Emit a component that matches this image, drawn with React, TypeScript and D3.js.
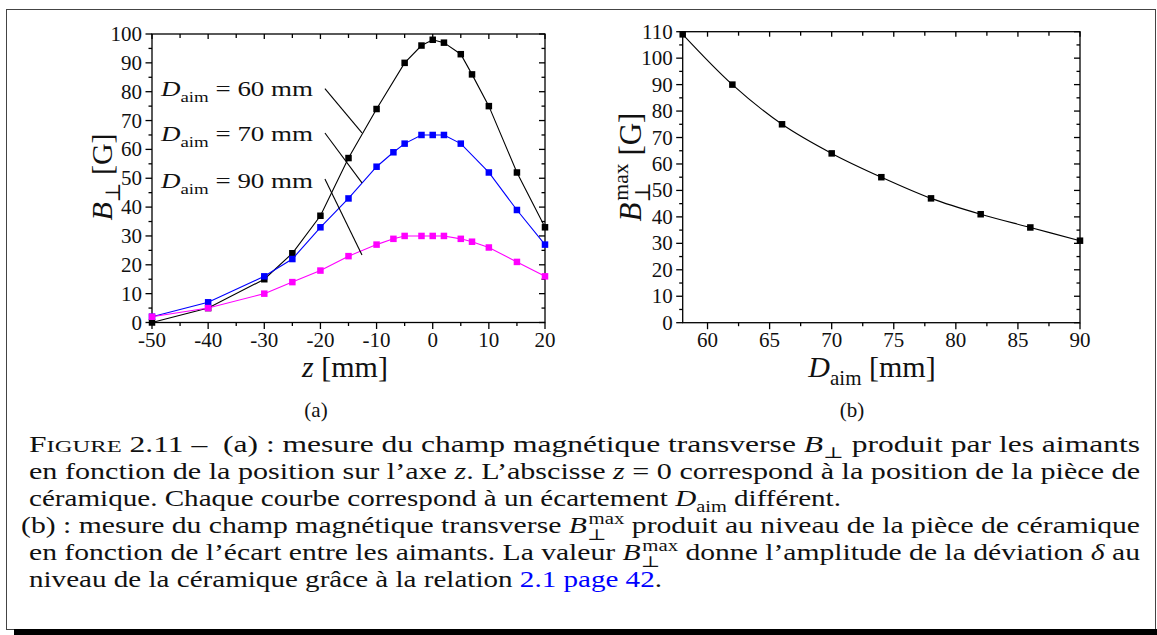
import React from "react";
import * as d3 from "d3";

// ---------- data (a) ----------
const z60 = [-50, -40, -30, -25, -20, -15, -10, -5, -2, 0, 2, 5, 7, 10, 15, 20];
const b60 = [0, 5, 15, 24, 37, 57, 74, 90, 96, 98, 97, 93, 86, 75, 52, 33];
const z70 = [-50, -40, -30, -25, -20, -15, -10, -7, -5, -2, 0, 2, 5, 10, 15, 20];
const b70 = [2, 7, 16, 22, 33, 43, 54, 59, 62, 65, 65, 65, 62, 52, 39, 27];
const z90 = [-50, -40, -30, -25, -20, -15, -10, -7, -5, -2, 0, 2, 5, 7, 10, 15, 20];
const b90 = [2, 5, 10, 14, 18, 23, 27, 29, 30, 30, 30, 30, 29, 28, 26, 21, 16];
const seriesNames = ["60", "70", "90"];
const seriesColors = ["#000000", "#0000ff", "#ff00ff"];
const xTicksA = [-50, -40, -30, -20, -10, 0, 10, 20];
const yTicksA = [0, 10, 20, 30, 40, 50, 60, 70, 80, 90, 100];
// annotation: label anchor (z, B) and leader line endpoints (z, B)
const labelPosA = [[-48.4, 78.5], [-48.4, 62.9], [-48.4, 46.6]];
const leaderA = [
  [[-19.2, 81.1], [-12.6, 65.7]],
  [[-19.2, 65.7], [-12.6, 48.4]],
  [[-19.2, 49.7], [-12.6, 23.4]],
];

// ---------- data (b) ----------
const dAim = [58, 62, 66, 70, 74, 78, 82, 86, 90];
const bMax = [109, 90, 75, 64, 55, 47, 41, 36, 31];
const xTicksB = [60, 65, 70, 75, 80, 85, 90];
const yTicksB = [0, 10, 20, 30, 40, 50, 60, 70, 80, 90, 100, 110];

const FONT = "'Liberation Serif', 'DejaVu Serif', serif";

type Seg = { t: string; k?: string };

function renderSegs(segs: Seg[], fs: number) {
  let off = 0;
  const out: any[] = [];
  segs.forEach((s, i) => {
    const k = s.k || "n";
    if (k === "sub") {
      const target = fs * 0.28;
      out.push(
        <tspan key={i} dy={target - off} fontSize={fs * 0.7} fontStyle="normal">
          {s.t}
        </tspan>
      );
      off = target;
    } else if (k === "perpmax") {
      const sub = fs * 0.3;
      const sup = -fs * 0.42;
      out.push(
        <tspan key={i + "a"} dy={sub - off} fontSize={fs * 0.7}>
          ⊥
        </tspan>
      );
      out.push(
        <tspan key={i + "b"} dx={-fs * 0.6} dy={sup - sub} fontSize={fs * 0.7}>
          max
        </tspan>
      );
      off = sup;
    } else {
      const props: any = { key: i };
      if (off !== 0) {
        props.dy = -off;
        off = 0;
      }
      if (k === "i") props.fontStyle = "italic";
      if (k === "link") props.fill = "#0000ff";
      if (k === "sc") props.fontSize = fs * 0.78;
      out.push(<tspan {...props}>{s.t}</tspan>);
    }
  });
  return out;
}

const captionLines: { segs: Seg[]; x: number; w: number }[] = [
  {
    x: 29,
    w: 1111,
    segs: [
      { t: "F" },
      { t: "IGURE", k: "sc" },
      { t: " 2.11 –  (a) : mesure du champ magnétique transverse " },
      { t: "B", k: "i" },
      { t: "⊥", k: "sub" },
      { t: " produit par les aimants" },
    ],
  },
  {
    x: 29,
    w: 1111,
    segs: [
      { t: "en fonction de la position sur l’axe " },
      { t: "z", k: "i" },
      { t: ". L’abscisse " },
      { t: "z", k: "i" },
      { t: " = 0 correspond à la position de la pièce de" },
    ],
  },
  {
    x: 29,
    w: 812,
    segs: [
      { t: "céramique. Chaque courbe correspond à un écartement " },
      { t: "D", k: "i" },
      { t: "aim", k: "sub" },
      { t: " différent." },
    ],
  },
  {
    x: 21,
    w: 1119,
    segs: [
      { t: "(b) : mesure du champ magnétique transverse " },
      { t: "B", k: "i" },
      { t: "", k: "perpmax" },
      { t: " produit au niveau de la pièce de céramique" },
    ],
  },
  {
    x: 29,
    w: 1111,
    segs: [
      { t: "en fonction de l’écart entre les aimants. La valeur " },
      { t: "B", k: "i" },
      { t: "", k: "perpmax" },
      { t: " donne l’amplitude de la déviation " },
      { t: "δ", k: "i" },
      { t: " au" },
    ],
  },
  {
    x: 29,
    w: 633,
    segs: [
      { t: "niveau de la céramique grâce à la relation " },
      { t: "2.1 page 42", k: "link" },
      { t: "." },
    ],
  },
];
const captionBaselines = [452, 479, 506, 533, 560, 587];

export default function App() {
  // scales (a)
  const xA = d3.scaleLinear().domain([-50, 20]).range([152, 545]);
  const yA = d3.scaleLinear().domain([0, 100]).range([322.5, 34]);
  // scales (b)
  const xB = d3.scaleLinear().domain([58, 90]).range([682.7, 1080]);
  const yB = d3.scaleLinear().domain([0, 110]).range([322.7, 31.7]);

  const lineA = d3
    .line<[number, number]>()
    .x((d) => xA(d[0]))
    .y((d) => yA(d[1]));
  const lineB = d3
    .line<[number, number]>()
    .x((d) => xB(d[0]))
    .y((d) => yB(d[1]))
    .curve(d3.curveCatmullRom.alpha(0.5));

  const seriesA = [
    z60.map((z, i) => [z, b60[i]] as [number, number]),
    z70.map((z, i) => [z, b70[i]] as [number, number]),
    z90.map((z, i) => [z, b90[i]] as [number, number]),
  ];
  const seriesB = dAim.map((d, i) => [d, bMax[i]] as [number, number]);

  const MS = 6.5;
  const tickFs = 21;

  const minorA_x = d3.range(-45, 20, 10);
  const minorA_y = d3.range(5, 100, 10);
  const minorB_x = d3.range(62.5, 90, 5);
  const minorB_y = d3.range(5, 110, 10);

  const axisFrame = (
    x: d3.ScaleLinear<number, number>,
    y: d3.ScaleLinear<number, number>,
    xMaj: number[],
    xMin: number[],
    yMaj: number[],
    yMin: number[],
    fmt: (v: number) => string
  ) => {
    const [x0, x1] = x.range();
    const [y0, y1] = y.range();
    return (
      <g stroke="#000" strokeWidth={1.3}>
        <rect x={x0} y={y1} width={x1 - x0} height={y0 - y1} fill="none" />
        {xMaj.map((v) => (
          <g key={"xM" + v}>
            <line x1={x(v)} x2={x(v)} y1={y0} y2={y0 + 6.5} />
            <line x1={x(v)} x2={x(v)} y1={y1} y2={y1 + 5} />
          </g>
        ))}
        {xMin.map((v) => (
          <g key={"xm" + v}>
            <line x1={x(v)} x2={x(v)} y1={y0} y2={y0 + 3.5} />
            <line x1={x(v)} x2={x(v)} y1={y1} y2={y1 + 4} />
          </g>
        ))}
        {yMaj.map((v) => (
          <g key={"yM" + v}>
            <line x1={x0 - 6.5} x2={x0} y1={y(v)} y2={y(v)} />
            <line x1={x1 - 6} x2={x1} y1={y(v)} y2={y(v)} />
          </g>
        ))}
        {yMin.map((v) => (
          <g key={"ym" + v}>
            <line x1={x0 - 3.5} x2={x0} y1={y(v)} y2={y(v)} />
            <line x1={x1 - 3.5} x2={x1} y1={y(v)} y2={y(v)} />
          </g>
        ))}
        <g stroke="none" fill="#111" fontSize={tickFs}>
          {xMaj.map((v) => (
            <text key={"xl" + v} x={x(v)} y={y0 + 24.5} textAnchor="middle">
              {fmt(v)}
            </text>
          ))}
          {yMaj.map((v) => (
            <text key={"yl" + v} x={x0 - 10} y={y(v) + 7} textAnchor="end">
              {fmt(v)}
            </text>
          ))}
        </g>
      </g>
    );
  };

  return (
    <svg
      width={1157}
      height={635}
      style={{ position: "absolute", left: 0, top: 0, background: "#fff" }}
      fontFamily={FONT}
    >
      <rect x={0} y={0} width={1157} height={635} fill="#fff" />
      {/* frame */}
      <rect x={6.5} y={9.5} width={1149} height={620} fill="none" stroke="#444" strokeWidth={1} />
      <rect x={14} y={629} width={1143} height={6} fill="#000" />

      {/* ---------- chart (a) ---------- */}
      {axisFrame(xA, yA, xTicksA, minorA_x, yTicksA, minorA_y, (v) => (v < 0 ? "-" + Math.abs(v) : String(v)))}
      {seriesA.map((s, si) => (
        <g key={"sa" + si}>
          <path d={lineA(s) || ""} fill="none" stroke={seriesColors[si]} strokeWidth={1.1} />
          {s.map((d, i) => (
            <rect
              key={i}
              x={xA(d[0]) - MS / 2}
              y={yA(d[1]) - MS / 2}
              width={MS}
              height={MS}
              fill={seriesColors[si]}
            />
          ))}
        </g>
      ))}
      {leaderA.map((l, i) => (
        <line
          key={"ld" + i}
          x1={xA(l[0][0])}
          y1={yA(l[0][1])}
          x2={xA(l[1][0])}
          y2={yA(l[1][1])}
          stroke="#000"
          strokeWidth={1.1}
        />
      ))}
      {seriesNames.map((n, i) => (
        <text
          key={"lab" + i}
          x={xA(labelPosA[i][0])}
          y={yA(labelPosA[i][1])}
          fontSize={22}
          fill="#111"
          textLength={152}
          lengthAdjust="spacingAndGlyphs"
        >
          {renderSegs(
            [
              { t: "D", k: "i" },
              { t: "aim", k: "sub" },
              { t: " = " + n + " mm" },
            ],
            22
          )}
        </text>
      ))}
      {/* axis titles (a) */}
      <text transform="translate(112,177) rotate(-90)" textAnchor="middle" fontSize={30} fill="#111">
        {renderSegs(
          [
            { t: "B", k: "i" },
            { t: "⊥", k: "sub" },
            { t: " [G]" },
          ],
          30
        )}
      </text>
      <text x={345} y={377} textAnchor="middle" fontSize={30} fill="#111">
        <tspan fontStyle="italic">z</tspan>
        <tspan> [mm]</tspan>
      </text>
      <text x={316} y={417} textAnchor="middle" fontSize={21} fill="#111">
        (a)
      </text>

      {/* ---------- chart (b) ---------- */}
      {axisFrame(xB, yB, xTicksB, minorB_x, yTicksB, minorB_y, (v) => String(v))}
      <path d={lineB(seriesB) || ""} fill="none" stroke="#000" strokeWidth={1.1} />
      {seriesB.map((d, i) => (
        <rect key={"pb" + i} x={xB(d[0]) - MS / 2} y={yB(d[1]) - MS / 2} width={MS} height={MS} fill="#000" />
      ))}
      <text transform="translate(641,167) rotate(-90)" textAnchor="middle" fontSize={31} fill="#111">
        {renderSegs(
          [
            { t: "B", k: "i" },
            { t: "", k: "perpmax" },
            { t: " [G]" },
          ],
          31
        )}
      </text>
      <text x={872} y={377} textAnchor="middle" fontSize={30} fill="#111">
        {renderSegs(
          [
            { t: "D", k: "i" },
            { t: "aim", k: "sub" },
            { t: " [mm]" },
          ],
          30
        )}
      </text>
      <text x={852} y={417} textAnchor="middle" fontSize={21} fill="#111">
        (b)
      </text>

      {/* ---------- caption ---------- */}
      {captionLines.map((l, i) => (
        <text
          key={"cap" + i}
          x={l.x}
          y={captionBaselines[i]}
          fontSize={22.5}
          fill="#111"
          textLength={l.w}
          lengthAdjust="spacingAndGlyphs"
          style={{ whiteSpace: "pre" }}
        >
          {renderSegs(l.segs, 22.5)}
        </text>
      ))}
    </svg>
  );
}
